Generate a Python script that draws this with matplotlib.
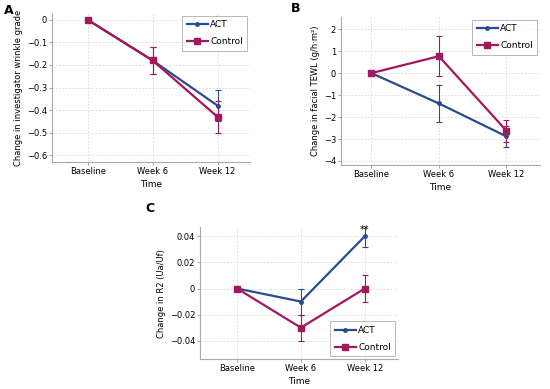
import matplotlib.pyplot as plt
from matplotlib.lines import Line2D

times = ["Baseline", "Week 6", "Week 12"]

# panel A: investigator wrinkle grade
a_act = [0, -0.18, -0.38]
a_act_err = [0, 0.06, 0.07]
a_ctl = [0, -0.18, -0.43]
a_ctl_err = [0, 0.06, 0.07]

# panel B: facial TEWL
b_act = [0, -1.38, -2.88]
b_act_err = [0, 0.85, 0.48]
b_ctl = [0, 0.77, -2.62]
b_ctl_err = [0, 0.9, 0.5]

# panel C: R2
c_act = [0, -0.01, 0.04]
c_act_err = [0, 0.01, 0.008]
c_ctl = [0, -0.03, 0]
c_ctl_err = [0, 0.01, 0.01]

blue = "#2B4B8E"
red = "#A3175B"

fig = plt.figure(figsize=(5.5, 3.89), dpi=100)


def panel(rect, act, act_err, ctl, ctl_err, ylim, yticks, yticklabels, ylabel, xlim, loc):
    ax = fig.add_axes(rect)
    x = list(range(len(times)))
    ax.errorbar(x, act, yerr=act_err, color=blue, marker="o", ms=2.5, lw=1.6,
                elinewidth=0.8, capsize=2, capthick=0.8, zorder=3)
    ax.errorbar(x, ctl, yerr=ctl_err, color=red, marker="s", ms=4, lw=1.6,
                elinewidth=0.8, capsize=2, capthick=0.8, zorder=3)
    ax.set_xlim(*xlim)
    ax.set_ylim(*ylim)
    ax.set_xticks(x)
    ax.set_xticklabels(times)
    ax.set_yticks(yticks)
    ax.set_yticklabels(yticklabels)
    ax.tick_params(labelsize=6, length=2, width=0.6, color="#999999", pad=1.5)
    ax.grid(True, ls=(0, (2, 2)), color="#d8d8d8", lw=0.6)
    for s in ["top", "right"]:
        ax.spines[s].set_visible(False)
    for s in ["left", "bottom"]:
        ax.spines[s].set_color("#aaaaaa")
        ax.spines[s].set_linewidth(0.8)
    ax.set_xlabel("Time", fontsize=6.5, labelpad=3)
    ax.set_ylabel(ylabel, fontsize=6, labelpad=3)
    handles = [Line2D([], [], color=blue, marker="o", ms=2.5, lw=1.6),
               Line2D([], [], color=red, marker="s", ms=4, lw=1.6)]
    leg = ax.legend(handles, ["ACT", "Control"], loc=loc, fontsize=6.5,
                    fancybox=False, edgecolor="#999999", handlelength=2.4,
                    borderpad=0.5, labelspacing=0.9, handletextpad=0.2,
                    borderaxespad=0.3)
    leg.get_frame().set_linewidth(0.6)
    return ax


axA = panel([0.0945, 0.5835, 0.36, 0.383], a_act, a_act_err, a_ctl, a_ctl_err,
            (-0.63, 0.03), [0, -0.1, -0.2, -0.3, -0.4, -0.5, -0.6],
            ["0", "\u22120.1", "\u22120.2", "\u22120.3", "\u22120.4", "\u22120.5", "\u22120.6"],
            "Change in investigator wrinkle grade", (-0.55, 2.5), "upper right")
axB = panel([0.62, 0.576, 0.362, 0.38], b_act, b_act_err, b_ctl, b_ctl_err,
            (-4.18, 2.55), [2, 1, 0, -1, -2, -3, -4],
            ["2", "1", "0", "\u22121", "\u22122", "\u22123", "\u22124"],
            "Change in facial TEWL (g/h\u00b7m\u00b2)", (-0.45, 2.5), "upper right")
axC = panel([0.3636, 0.0771, 0.36, 0.339], c_act, c_act_err, c_ctl, c_ctl_err,
            (-0.054, 0.047), [0.04, 0.02, 0, -0.02, -0.04],
            ["0.04", "0.02", "0", "\u22120.02", "\u22120.04"],
            "Change in R2 (Ua/Uf)", (-0.58, 2.52), "lower right")
axC.text(2, c_act[2] + 0.001, "**", ha="center", va="bottom", fontsize=7)

fig.text(9 / 550, 1 - 11 / 389, "A", fontsize=9, fontweight="bold", ha="center", va="center")
fig.text(296 / 550, 1 - 9 / 389, "B", fontsize=9, fontweight="bold", ha="center", va="center")
fig.text(150 / 550, 1 - 209 / 389, "C", fontsize=9, fontweight="bold", ha="center", va="center")

fig.savefig("out.png", dpi=100)
